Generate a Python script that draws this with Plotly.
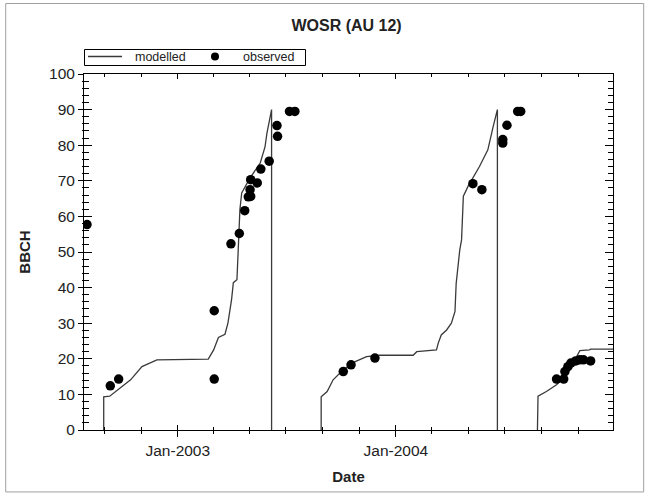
import plotly.graph_objects as go

# ---------------- data ----------------
model_dates = [
    "2002-08-30", "2002-08-30", "2002-09-09", "2002-10-14", "2002-11-02",
    "2002-11-27", "2003-02-21", "2003-03-02", "2003-03-10", "2003-03-21", "2003-03-26",
    "2003-04-01", "2003-04-04", "2003-04-10", "2003-04-12", "2003-04-15", "2003-04-18",
    "2003-05-02", "2003-05-19", "2003-05-27", "2003-05-30", "2003-06-06", "2003-06-07",
    "2003-06-07", None,
    "2003-08-29", "2003-08-29", "2003-08-31", "2003-09-08", "2003-09-18", "2003-10-05",
    "2003-10-25", "2003-11-13", "2003-12-05", "2004-01-30", "2004-02-05", "2004-03-09",
    "2004-03-12", "2004-03-17", "2004-03-26", "2004-04-03", "2004-04-09", "2004-04-11",
    "2004-04-17", "2004-04-20", "2004-04-23", "2004-05-01", "2004-05-20", "2004-06-03",
    "2004-06-12", "2004-06-18", "2004-06-19", "2004-06-19", None,
    "2004-08-25", "2004-08-25", "2004-08-26", "2004-09-09", "2004-09-26", "2004-10-13",
    "2004-10-29", "2004-11-04", "2004-11-20", "2004-11-22", "2004-12-31",
]
model_bbch = [
    0, 9.3, 9.5, 14.1, 17.8,
    19.7, 19.9, 22.5, 26.0, 26.9, 30.1,
    36.6, 41.4, 42.2, 50.0, 62.0, 66.6,
    70.8, 75.0, 79.5, 83.2, 89.5, 90.0,
    0, None,
    0, 9.3, 9.6, 10.8, 14.1, 16.9,
    19.2, 20.6, 21.0, 21.0, 22.0, 22.5,
    24.4, 26.7, 28.1, 30.0, 33.3, 41.2,
    50.6, 53.4, 65.7, 68.5, 74.0, 78.7,
    85.3, 90.0, 90.0, 0, None,
    0, 9.3, 9.5, 10.8, 12.7, 15.5,
    20.6, 22.3, 22.5, 22.7, 22.7,
]

obs_dates = [
    "2002-08-02", "2002-09-10", "2002-09-24", "2003-03-03", "2003-03-03", "2003-03-31",
    "2003-04-14", "2003-04-23", "2003-04-29", "2003-05-03", "2003-05-02", "2003-05-03",
    "2003-05-14", "2003-05-20", "2003-06-03", "2003-06-16", "2003-06-17", "2003-07-07",
    "2003-07-16",
    "2003-10-05", "2003-10-18", "2003-11-27", "2004-05-09", "2004-05-24", "2004-06-28",
    "2004-06-28", "2004-07-05", "2004-07-23", "2004-07-28",
    "2004-09-26", "2004-10-08", "2004-10-10", "2004-10-15", "2004-10-20", "2004-10-28",
    "2004-11-04", "2004-11-10", "2004-11-22",
]
obs_bbch = [
    57.7, 12.4, 14.3, 33.5, 14.3, 52.3,
    55.2, 61.6, 65.5, 65.6, 67.5, 70.3,
    69.4, 73.3, 75.5, 85.5, 82.5, 89.5,
    89.5,
    16.4, 18.3, 20.2, 69.2, 67.5, 81.6,
    80.6, 85.6, 89.5, 89.5,
    14.3, 14.3, 16.4, 17.8, 18.8, 19.4,
    19.7, 19.7, 19.4,
]

x_range = ["2002-07-28", "2004-12-29 12:00"]
y_range = [0, 100]
major_tick_dates = ["2003-01-01", "2004-01-01"]
major_tick_text = ["Jan-2003", "Jan-2004"]
legend_labels = ["modelled", "observed"]

# ---------------- figure ----------------
FONT = "Liberation Sans, Arial, sans-serif"
TXT = "#222"
LINE_COLOR = "#3a3a3a"
W, H = 649, 496
ML, MR, MT, MB = 84, 36, 74, 66
PW, PH = W - ML - MR, H - MT - MB


def px(xpix):
    return (xpix - ML) / PW


def py(ypix):
    return (H - MB - ypix) / PH


fig = go.Figure()

fig.add_trace(go.Scatter(
    x=model_dates, y=model_bbch, mode="lines", name=legend_labels[0],
    line=dict(color=LINE_COLOR, width=1.3), connectgaps=False, showlegend=False,
))
fig.add_trace(go.Scatter(
    x=obs_dates, y=obs_bbch, mode="markers", name=legend_labels[1],
    marker=dict(color="black", size=9.5, line=dict(width=0)), showlegend=False,
))
# dummy trace to activate overlay axes (inner ticks)
fig.add_trace(go.Scatter(x=[x_range[0]], y=[0], xaxis="x2", yaxis="y2",
                         mode="markers", marker=dict(opacity=0),
                         showlegend=False, hoverinfo="skip"))

axis_common = dict(showgrid=False, zeroline=False, linecolor="black", linewidth=1,
                   tickcolor="black", tickwidth=1)

# legend (box, line sample, marker sample, labels)
shapes = [
    dict(type="rect", xref="paper", yref="paper",
         x0=-0.148, x1=1.058, y0=-0.174, y1=1.198,
         line=dict(color="#a0a0a0", width=1), fillcolor="rgba(0,0,0,0)", layer="below"),
    dict(type="rect", xref="paper", yref="paper",
         x0=px(84.5), x1=px(305.5), y0=py(65.5), y1=py(49.5),
         line=dict(color="black", width=1), fillcolor="white"),
    dict(type="line", xref="paper", yref="paper",
         x0=px(88), x1=px(122), y0=py(56.5), y1=py(56.5),
         line=dict(color=LINE_COLOR, width=1.3)),
    dict(type="circle", xref="paper", yref="paper",
         x0=px(211), x1=px(219), y0=py(60.5), y1=py(52.5),
         line=dict(color="black", width=0), fillcolor="black"),
]
annotations = [
    dict(text=legend_labels[0], xref="paper", yref="paper", x=px(160), y=py(57),
         xanchor="center", yanchor="middle", showarrow=False,
         font=dict(family=FONT, size=12.5, color=TXT)),
    dict(text=legend_labels[1], xref="paper", yref="paper", x=px(268), y=py(57),
         xanchor="center", yanchor="middle", showarrow=False,
         font=dict(family=FONT, size=12.5, color=TXT)),
]

fig.update_layout(
    width=W, height=H,
    margin=dict(l=ML, r=MR, t=MT, b=MB),
    paper_bgcolor="white", plot_bgcolor="white",
    font=dict(family=FONT, size=15, color=TXT),
    title=dict(text="<b>WOSR (AU 12)</b>", x=0.534, xanchor="center",
               y=1 - 25 / H, yanchor="middle",
               font=dict(family=FONT, size=16, color=TXT)),
    showlegend=False,
    xaxis=dict(
        **axis_common, range=x_range, type="date", showline=True, mirror=True,
        tickvals=major_tick_dates, ticktext=major_tick_text,
        ticks="outside", ticklen=6,
        minor=dict(ticks="outside", ticklen=3, tick0="2003-01-01", dtick="M2",
                   tickcolor="black", showgrid=False),
        title=dict(text="<b>Date</b>", standoff=13,
                   font=dict(family=FONT, size=15, color=TXT)),
        tickfont=dict(family=FONT, size=15.5, color=TXT),
    ),
    yaxis=dict(
        **axis_common, range=y_range, showline=True, mirror=True,
        tick0=0, dtick=10, ticks="outside", ticklen=5,
        minor=dict(ticks="outside", ticklen=1, dtick=2, tickcolor="black", showgrid=False),
        title=dict(text="<b>BBCH</b>", standoff=14,
                   font=dict(family=FONT, size=15, color=TXT)),
        tickfont=dict(family=FONT, size=15.5, color=TXT),
    ),
    xaxis2=dict(
        **axis_common, range=x_range, type="date", overlaying="x", anchor="y2",
        showline=False, mirror="ticks", showticklabels=False,
        tickvals=major_tick_dates, ticks="inside", ticklen=5,
        minor=dict(ticks="inside", ticklen=3, tick0="2003-01-01", dtick="M2",
                   tickcolor="black", showgrid=False),
    ),
    yaxis2=dict(
        **axis_common, range=y_range, overlaying="y", anchor="x2",
        showline=False, mirror="ticks", showticklabels=False,
        tick0=0, dtick=10, ticks="inside", ticklen=8,
        minor=dict(ticks="inside", ticklen=5, dtick=2, tickcolor="black", showgrid=False),
    ),
    shapes=shapes,
    annotations=annotations,
)

fig.write_html("out.html")
